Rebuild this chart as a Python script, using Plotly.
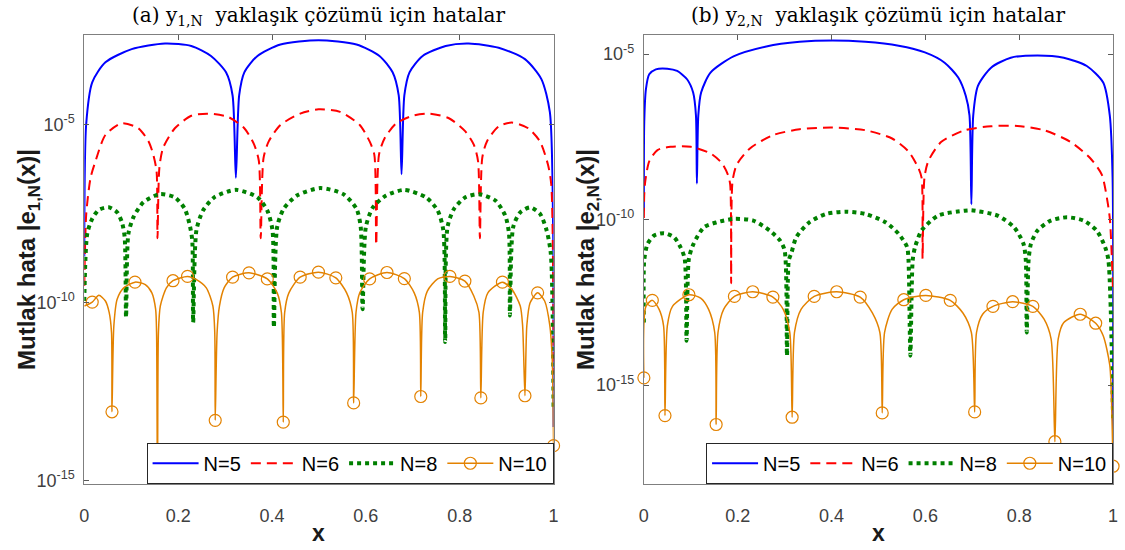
import numpy as np
import plotly.graph_objects as go

# ---------------------------------------------------------------
# Absolute errors |e_{i,N}(x)|, stored as log10 values at sample x
# ---------------------------------------------------------------
N_LABELS = ["N=5", "N=6", "N=8", "N=10"]

# panel (a): y_{1,N}
e1_x5 = [0, .004, .0169, .045, .101, .172, .228, .270, .302, .316, .323, .330, .341, .369, .418, .499,
         .580, .629, .657, .670, .676, .682, .693, .721, .770, .819, .883, .939, .974, .992, .999, 1.0]
e1_lg5 = [-8.71, -5.0, -3.82, -3.26, -2.89, -2.73, -2.80, -3.08, -3.54, -4.19, -6.50, -4.19, -3.54, -3.08, -2.76, -2.64,
          -2.76, -3.08, -3.54, -4.19, -6.40, -4.19, -3.54, -3.08, -2.80, -2.73, -2.85, -3.17, -3.73, -4.65, -7.9, -13.5]

e1_x6 = [0, .0042, .0134, .024, .045, .080, .115, .137, .147, .154, .156, .160, .168, .193, .228, .263, .306,
         .341, .362, .372, .376, .382, .393, .418, .460, .499, .545, .587, .608, .618, .622, .628, .640, .665,
         .700, .735, .777, .812, .830, .839, .843, .848, .858, .883, .911, .946, .971, .988, .995, 1.0]
e1_lg6 = [-9.54, -7.51, -6.50, -6.03, -5.30, -4.97, -5.11, -5.48, -5.85, -6.31, -8.20, -6.22, -5.66, -5.11, -4.76, -4.70, -4.79,
          -5.11, -5.57, -6.03, -8.20, -5.94, -5.48, -5.02, -4.70, -4.58, -4.65, -5.02, -5.48, -5.85, -8.39, -5.85, -5.39, -4.97,
          -4.76, -4.70, -4.83, -5.20, -5.57, -6.03, -8.20, -5.94, -5.48, -5.06, -4.95, -5.11, -5.48, -6.13, -6.68, -12.0]

e1_x8 = [0, .0063, .0169, .031, .052, .070, .080, .086, .089, .094, .105, .126, .161, .193, .214, .224, .230, .232,
         .239, .253, .277, .323, .369, .390, .401, .404, .411, .425, .453, .503, .552, .580, .589, .593, .600, .615,
         .643, .682, .728, .753, .765, .769, .774, .788, .812, .841, .876, .897, .905, .907, .914, .929, .950, .971,
         .985, .994, 1.0]
e1_lg8 = [-9.96, -8.07, -7.65, -7.40, -7.33, -7.47, -7.74, -8.16, -10.42, -8.07, -7.60, -7.19, -6.96, -7.05, -7.37, -7.79, -8.25, -10.56,
          -7.97, -7.42, -7.05, -6.84, -7.05, -7.42, -7.97, -10.70, -7.88, -7.37, -7.00, -6.79, -6.96, -7.37, -7.88, -10.19, -7.88, -7.33,
          -7.00, -6.84, -7.05, -7.42, -7.97, -11.11, -7.88, -7.37, -7.05, -6.96, -7.14, -7.56, -8.07, -10.37, -7.88, -7.47, -7.33, -7.51,
          -7.97, -8.62, -13.0]

e1_x10 = [0, .0169, .031, .045, .053, .058, .059, .063, .070, .084, .108, .130, .144, .152, .154, .156, .158, .162,
          .175, .189, .220, .239, .260, .274, .278, .279, .283, .288, .298, .316, .351, .390, .411, .420, .424, .427,
          .436, .460, .499, .536, .559, .571, .574, .579, .587, .608, .645, .682, .703, .714, .717, .721, .731, .753,
          .779, .811, .830, .841, .845, .850, .860, .891, .911, .929, .934, .939, .943, .950, .966, .981, .992, .997, 1.0]
e1_lg10 = [-10.1, -9.99, -9.80, -9.96, -10.28, -10.84, -13.07, -10.65, -9.91, -9.59, -9.43, -9.50, -9.73, -10.19, -10.84, -16.0, -10.84, -10.10,
           -9.59, -9.39, -9.27, -9.36, -9.59, -10.10, -10.84, -13.31, -10.84, -10.10, -9.59, -9.29, -9.17, -9.34, -9.73, -10.28, -13.36, -10.28,
           -9.73, -9.29, -9.15, -9.31, -9.73, -10.28, -12.82, -10.28, -9.73, -9.34, -9.16, -9.33, -9.73, -10.28, -12.64, -10.28, -9.68, -9.34,
           -9.27, -9.40, -9.82, -10.28, -12.68, -10.28, -9.73, -9.43, -9.63, -10.10, -10.65, -12.62, -10.65, -10.01, -9.73, -9.96, -10.65, -11.57, -14.02]
e1_marks10 = [.0169, .059, .108, .189, .220, .279, .316, .351, .390, .424, .460, .499, .536, .574, .608, .645,
              .682, .717, .779, .811, .845, .891, .939, .966, 1.0]

# panel (b): y_{2,N}
e2_x5 = [0, .0008, .0044, .0114, .0255, .050, .071, .092, .105, .111, .113, .116, .122, .142, .191, .261, .332, .402,
         .472, .543, .599, .641, .670, .686, .694, .698, .702, .712, .740, .782, .839, .895, .944, .979, .993, .999, 1.0]
e2_lg5 = [-9.75, -7.05, -6.06, -5.61, -5.46, -5.44, -5.51, -5.76, -6.16, -6.85, -8.91, -6.85, -6.16, -5.56, -5.07, -4.77, -4.63, -4.59,
          -4.63, -4.75, -4.95, -5.26, -5.71, -6.26, -6.85, -9.54, -6.85, -5.96, -5.41, -5.11, -5.04, -5.11, -5.36, -5.86, -6.85, -8.74, -16.4]

e2_x6 = [0, .0008, .003, .0114, .029, .057, .100, .142, .166, .179, .184, .186, .189, .198, .226, .275, .332, .402,
         .472, .529, .564, .585, .592, .594, .598, .606, .634, .684, .740, .796, .853, .909, .951, .976, .988, .9935, 1.0]
e2_lg6 = [-9.95, -9.24, -8.84, -8.24, -7.90, -7.80, -7.80, -8.00, -8.29, -8.64, -8.94, -11.92, -8.84, -8.34, -7.85, -7.45, -7.27, -7.22,
          -7.30, -7.55, -7.94, -8.44, -8.74, -11.18, -8.74, -8.24, -7.65, -7.30, -7.18, -7.17, -7.30, -7.65, -8.14, -8.64, -9.44, -10.03, -12.2]

e2_x8 = [0, .0008, .008, .022, .043, .064, .078, .087, .091, .096, .106, .128, .156, .191, .233, .268, .290, .300,
         .305, .309, .314, .325, .353, .388, .430, .472, .515, .543, .561, .564, .568, .573, .578, .592, .627, .684,
         .698, .754, .789, .809, .814, .816, .820, .825, .839, .867, .902, .937, .965, .983, .990, 1.0]
e2_lg8 = [-13.11, -11.22, -10.73, -10.48, -10.41, -10.53, -10.83, -11.18, -13.66, -11.18, -10.73, -10.23, -10.08, -9.98, -10.03, -10.33, -10.63, -10.93,
          -14.11, -11.22, -11.03, -10.53, -10.08, -9.83, -9.76, -9.83, -10.08, -10.43, -10.83, -11.22, -14.11, -11.22, -10.83, -10.33, -9.88, -9.73,
          -9.72, -9.88, -10.23, -10.73, -11.22, -13.41, -11.22, -10.73, -10.33, -10.03, -9.93, -10.03, -10.33, -10.83, -11.22, -16.0]

e2_x10 = [0, .0044, .018, .0325, .042, .045, .050, .061, .096, .121, .138, .151, .154, .158, .170, .193, .232, .275,
          .297, .311, .316, .321, .335, .363, .411, .461, .487, .503, .508, .513, .529, .554, .601, .653, .680, .698,
          .705, .709, .722, .744, .786, .829, .853, .868, .876, .883, .895, .930, .963, .979, .993, .998, 1.0]
e2_lg10 = [-14.78, -12.62, -12.44, -12.71, -13.21, -15.92, -13.21, -12.62, -12.27, -12.37, -12.71, -13.41, -16.19, -13.41, -12.71, -12.32, -12.18, -12.34,
           -12.71, -13.41, -15.97, -13.41, -12.71, -12.32, -12.18, -12.34, -12.82, -13.41, -15.84, -13.41, -12.71, -12.42, -12.29, -12.44, -12.82, -13.41,
           -15.81, -13.41, -12.86, -12.62, -12.48, -12.62, -13.01, -13.61, -16.71, -13.61, -13.11, -12.86, -13.13, -13.51, -14.40, -16.19, -17.45]
e2_marks10 = [0, .018, .045, .096, .154, .193, .232, .275, .316, .363, .411, .461, .508, .554, .601, .653,
              .705, .744, .786, .829, .876, .930, .963, 1.0]

# y tick labels for the log axes
Y_TICKS = [1e-15, 1e-10, 1e-5]
Y_TICKTEXT = ["10<sup>-15</sup>", "10<sup>-10</sup>", "10<sup>-5</sup>"]
X_TICKS = [0, 0.2, 0.4, 0.6, 0.8, 1.0]
X_TICKTEXT = ["0", "0.2", "0.4", "0.6", "0.8", "1"]

panels = [
    dict(xs=[e1_x5, e1_x6, e1_x8, e1_x10], lgs=[e1_lg5, e1_lg6, e1_lg8, e1_lg10], marks=e1_marks10),
    dict(xs=[e2_x5, e2_x6, e2_x8, e2_x10], lgs=[e2_lg5, e2_lg6, e2_lg8, e2_lg10], marks=e2_marks10),
]

# ---------------------------------------------------------------
# Styling
# ---------------------------------------------------------------
SANS = "Liberation Sans, Arial, sans-serif"
SERIF = "DejaVu Serif, Liberation Serif, serif"
ORANGE = "#E38200"
line_styles = [
    dict(color="#0000FF", width=2, dash="solid"),
    dict(color="#FF0000", width=2, dash="10px,6px"),
    dict(color="#008000", width=4, dash="dot"),
    dict(color=ORANGE, width=1.5, dash="solid"),
]

fig = go.Figure()

for p, panel in enumerate(panels):
    xa = "x" if p == 0 else "x2"
    ya = "y" if p == 0 else "y2"
    leg = "legend" if p == 0 else "legend2"
    for k in range(4):
        xs = panel["xs"][k]
        lg = panel["lgs"][k]
        assert len(xs) == len(lg)
        ys = 10.0 ** np.array(lg)
        tr = dict(
            x=xs, y=ys, xaxis=xa, yaxis=ya, name=N_LABELS[k], legend=leg,
            line=dict(shape="spline", smoothing=0.7, **line_styles[k]),
            hoverinfo="skip",
        )
        if k == 3:
            idx = [xs.index(v) for v in panel["marks"]]
            tr.update(
                mode="lines+markers",
                marker=dict(symbol="circle-open", size=12, color=ORANGE, line=dict(width=1.2, color=ORANGE)),
                selectedpoints=idx,
                selected=dict(marker=dict(opacity=1)),
                unselected=dict(marker=dict(opacity=0)),
                cliponaxis=False,
            )
        else:
            tr.update(mode="lines")
        fig.add_trace(go.Scatter(**tr))

W, H = 1125, 550
top, bottom = 35, 490
ydom = [(H - bottom) / H, (H - top) / H]
xdoms = [[80 / W, 553.5 / W], [644.6 / W, 1118 / W]]
yranges = [[-15.09, -2.48], [-17.98, -4.41]]

axis_common = dict(
    showline=True, linecolor="#7f7f7f", linewidth=1, mirror="ticks",
    ticks="inside", ticklen=5, tickcolor="#5a5a5a", tickwidth=1,
    showgrid=False, zeroline=False,
    tickfont=dict(family=SANS, size=18, color="#404040"),
)

layout = dict(
    width=W, height=H, margin=dict(l=0, r=0, t=0, b=0),
    paper_bgcolor="white", plot_bgcolor="white", showlegend=True,
)
for p in range(2):
    sx = "" if p == 0 else "2"
    layout["xaxis" + sx] = dict(
        axis_common, domain=xdoms[p], range=[0, 1], tickvals=X_TICKS, ticktext=X_TICKTEXT,
        anchor="y" + sx, ticklabelstandoff=16,
    )
    layout["yaxis" + sx] = dict(
        axis_common, domain=ydom, type="log", range=yranges[p], tickvals=Y_TICKS,
        ticktext=Y_TICKTEXT, anchor="x" + sx, ticklabelstandoff=5,
    )
    layout["legend" + sx] = dict(
        orientation="h", x=xdoms[p][1], xanchor="right", y=ydom[0], yanchor="bottom",
        bgcolor="white", bordercolor="#262626", borderwidth=1,
        font=dict(family=SANS, size=20, color="black"),
        itemwidth=46, tracegroupgap=0,
    )
fig.update_layout(**layout)

titles = ["(a) y<sub>1,N</sub>  yaklaşık çözümü için hatalar",
          "(b) y<sub>2,N</sub>  yaklaşık çözümü için hatalar"]
ytitles = ["<b>Mutlak hata |e<sub>1,N</sub>(x)|</b>", "<b>Mutlak hata |e<sub>2,N</sub>(x)|</b>"]
ytitle_x = [23 / W, 587 / W]
for p in range(2):
    cx = (xdoms[p][0] + xdoms[p][1]) / 2
    fig.add_annotation(text=titles[p], xref="paper", yref="paper", x=cx, y=1 - 16 / H,
                       showarrow=False, xanchor="center", yanchor="middle",
                       font=dict(family=SERIF, size=20, color="black"))
    fig.add_annotation(text="<b>x</b>", xref="paper", yref="paper", x=cx, y=1 - 540 / H,
                       showarrow=False, xanchor="center", yanchor="middle",
                       font=dict(family=SANS, size=23, color="#1a1a1a"))
    fig.add_annotation(text=ytitles[p], xref="paper", yref="paper", x=ytitle_x[p],
                       y=(ydom[0] + ydom[1]) / 2, textangle=-90, showarrow=False,
                       xanchor="center", yanchor="middle",
                       font=dict(family=SANS, size=24, color="#1a1a1a"))

fig.write_html("out.html", config=dict(displayModeBar=False))
